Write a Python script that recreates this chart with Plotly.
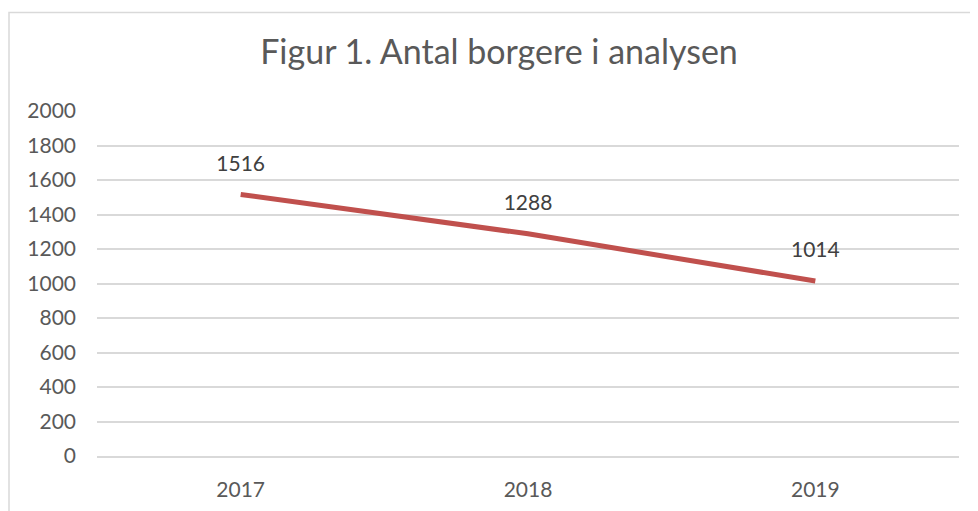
import plotly.graph_objects as go

years = ["2017", "2018", "2019"]
values = [1516, 1288, 1014]
y_ticks = list(range(0, 2001, 200))

FONT = "Lato"
FS = 21

fig = go.Figure()
fig.add_trace(go.Scatter(
    x=years, y=values, mode="lines",
    line=dict(color="#C0504D", width=5),
    hoverinfo="skip", showlegend=False,
))
fig.add_trace(go.Scatter(
    x=years, y=values, mode="markers+text",
    text=[str(v) for v in values], textposition="top center",
    marker=dict(size=28, color="rgba(0,0,0,0)"),
    textfont=dict(family=FONT, size=FS, color="#404040"),
    hoverinfo="skip", showlegend=False, cliponaxis=False,
))

# page has ~8px body margin; compensate
OFF = 8
W, H = 978 - OFF, 511 - OFF
L, R, T, B = 97 - OFF, 19, 111 - OFF, 55
pw, ph = W - L - R, H - T - B
x0 = (9 - OFF - L) / pw
y1 = (H - B - (12.5 - OFF)) / ph

fig.add_shape(type="rect", xref="paper", yref="paper",
              x0=x0, x1=1.2, y0=-0.5, y1=y1,
              line=dict(color="#D9D9D9", width=1.5), fillcolor="rgba(0,0,0,0)", layer="below")

fig.update_layout(
    width=W, height=H,
    margin=dict(l=L, r=R, t=T, b=B, autoexpand=False),
    paper_bgcolor="white", plot_bgcolor="white",
    title=dict(text="Figur 1. Antal borgere i analysen", x=(499 - OFF) / W, xanchor="center",
               y=1 - (52 - OFF) / H, yanchor="middle", xref="container",
               font=dict(family=FONT, size=34, color="#595959")),
    font=dict(family=FONT, size=FS, color="#595959"),
    xaxis=dict(type="category", range=[-0.5, 2.5], showgrid=False, showline=True,
               linecolor="#D9D9D9", linewidth=1.5, ticks="", ticklabelstandoff=14,
               automargin=False,
               tickfont=dict(family=FONT, size=FS, color="#595959")),
    yaxis=dict(range=[0, 2000], tickvals=y_ticks, showgrid=True, gridcolor="#D9D9D9",
               gridwidth=1.5, zeroline=False, showline=False, ticks="", ticklabelstandoff=20,
               automargin=False,
               tickfont=dict(family=FONT, size=FS, color="#595959")),
)

fig.write_html("out.html")
